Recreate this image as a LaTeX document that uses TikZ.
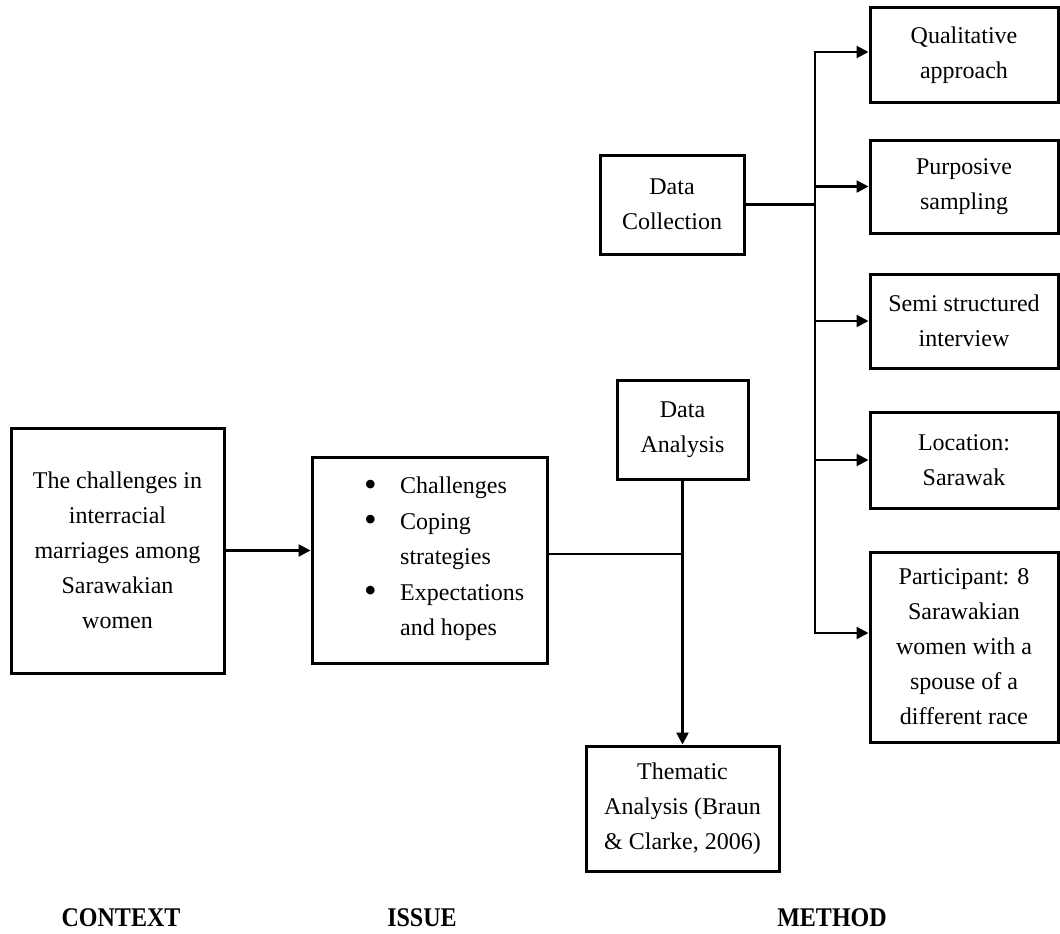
\documentclass[tikz,border=0pt]{standalone}
\usepackage{fontspec}
\setmainfont{Liberation Serif}
\usetikzlibrary{arrows.meta}
\newcommand{\bigbul}{\makebox[36pt][l]{\raisebox{-2.5pt}{\fontsize{36}{35.6}\selectfont •}}}
\begin{document}
\begin{tikzpicture}[x=1pt,y=-1pt,
  box/.style={draw, line width=3pt, align=center, inner sep=0pt, font=\fontsize{24}{35}\selectfont},
  conn/.style={line width=2.4pt},
  arr/.style={conn, -{Triangle[length=12pt,width=12pt]}},
  lbl/.style={font=\fontsize{27}{30}\selectfont\bfseries, inner sep=0pt}]
\useasboundingbox (0,0) rectangle (1060,934);

% context and issue
\node[box, minimum width=213pt, minimum height=245pt] (ctx) at (117.5,550.5)
  {The challenges in\\interracial\\marriages among\\Sarawakian\\women};
\node[box, minimum width=235pt, minimum height=206pt] (issue) at (429.5,560) {};
\node[anchor=west, align=left, inner sep=0pt, font=\fontsize{24}{35.6}\selectfont] (issuetxt) at (364,559)
  {\bigbul Challenges\\
   \bigbul Coping\\
   \hspace*{36pt}strategies\\
   \bigbul Expectations\\
   \hspace*{36pt}and hopes};

% data collection / analysis
\node[box, minimum width=144pt, minimum height=99pt] (dc) at (672,204.5) {Data\\Collection};
\node[box, minimum width=131pt, minimum height=99pt] (da) at (682.5,429.5) {Data\\Analysis};
\node[box, minimum width=193pt, minimum height=125pt] (thm) at (682.5,808.5)
  {Thematic\\Analysis (Braun\\\& Clarke, 2006)};

% method boxes
\node[box, minimum width=188pt, minimum height=94pt] (qual) at (964,55) {Qualitative\\approach};
\node[box, minimum width=188pt, minimum height=93pt] (purp) at (964,186.5) {Purposive\\sampling};
\node[box, minimum width=188pt, minimum height=94pt] (semi) at (964,321) {Semi structured\\interview};
\node[box, minimum width=188pt, minimum height=96pt] (loc) at (964,460) {Location:\\Sarawak};
\node[box, minimum width=188pt, minimum height=190pt] (part) at (964,647)
  {Participant: 8\\Sarawakian\\women with a\\spouse of a\\different race};

% connectors
\draw[arr] (ctx.east) -- (ctx.east -| issue.west);
\draw[conn] ([yshift=6pt]issue.east) -- ([yshift=6pt]issue.east -| da.south);
\draw[arr] (da.south) -- (thm.north);

\coordinate (bustop) at (815,52);
\coordinate (busbot) at (815,633);
\draw[conn] (dc.east) -- (dc.east -| bustop);
\draw[conn, line cap=rect] (bustop) -- (busbot);
\draw[arr] (bustop) -- (bustop -| qual.west);
\draw[arr] (bustop |- purp.west) -- (purp.west);
\draw[arr] (bustop |- semi.west) -- (semi.west);
\draw[arr] (bustop |- loc.west) -- (loc.west);
\draw[arr] (busbot) -- (busbot -| part.west);

% bottom labels
\node[lbl] (lctx) at (121,918) {\scalebox{0.89}[1]{CONTEXT}};
\node[lbl] (liss) at (422,918) {\scalebox{0.89}[1]{ISSUE}};
\node[lbl] (lmet) at (832,918) {\scalebox{0.89}[1]{METHOD}};
\end{tikzpicture}
\end{document}
